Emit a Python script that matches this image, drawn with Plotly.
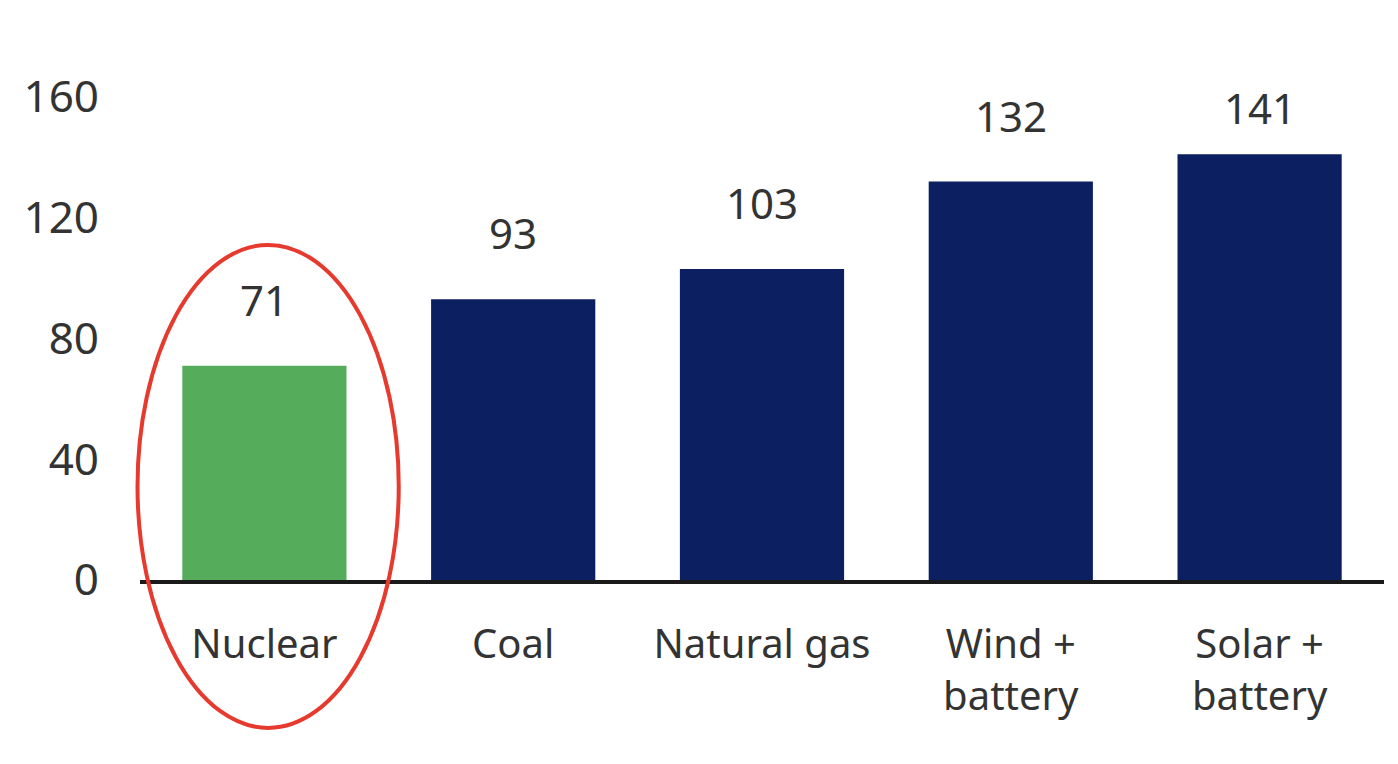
import plotly.graph_objects as go

categories = ["Nuclear", "Coal", "Natural gas", "Wind +<br>battery", "Solar +<br>battery"]
values = [71, 93, 103, 132, 141]
bar_colors = ["#55ad5b", "#0b1f61", "#0b1f61", "#0b1f61", "#0b1f61"]
y_ticks = [0, 40, 80, 120, 160]

y_max = 160
n_cat = len(categories)

# value labels sit well above the bars; the tallest one is squeezed down
label_shift = [36, 36, 36, 36, 16]

# highlight ellipse around the nuclear bar, in data units
ell_x = (-0.51, 0.54)
ell_y = (-49, 111)

fig = go.Figure(
    go.Bar(
        x=categories,
        y=values,
        marker=dict(color=bar_colors, line=dict(width=0)),
        cliponaxis=False,
    )
)

for cat, val, shift in zip(categories, values, label_shift):
    fig.add_annotation(
        x=cat,
        y=val,
        text=str(val),
        showarrow=False,
        yanchor="bottom",
        yshift=shift,
        font=dict(size=42, color="#333333"),
    )

fig.add_shape(
    type="circle",
    xref="paper",
    yref="paper",
    x0=(ell_x[0] + 0.5) / n_cat,
    x1=(ell_x[1] + 0.5) / n_cat,
    y0=ell_y[0] / y_max,
    y1=ell_y[1] / y_max,
    line=dict(color="#e63a2e", width=4),
    layer="above",
)

fig.update_layout(
    width=1398,
    height=764,
    margin=dict(l=132, r=22, t=89, b=192),
    plot_bgcolor="white",
    paper_bgcolor="white",
    font=dict(family="Noto Sans, Open Sans, sans-serif", size=40, color="#333333"),
    bargap=0.34,
    showlegend=False,
    xaxis=dict(
        showline=True,
        linecolor="#1a1a1a",
        linewidth=4,
        ticks="",
        showgrid=False,
        ticklabelstandoff=26,
        tickfont=dict(size=40),
    ),
    yaxis=dict(
        range=[0, y_max],
        tickvals=y_ticks,
        showgrid=False,
        zeroline=False,
        showline=False,
        ticks="",
        ticklabelstandoff=40,
        tickfont=dict(size=44),
    ),
)

fig.write_html("out.html")
